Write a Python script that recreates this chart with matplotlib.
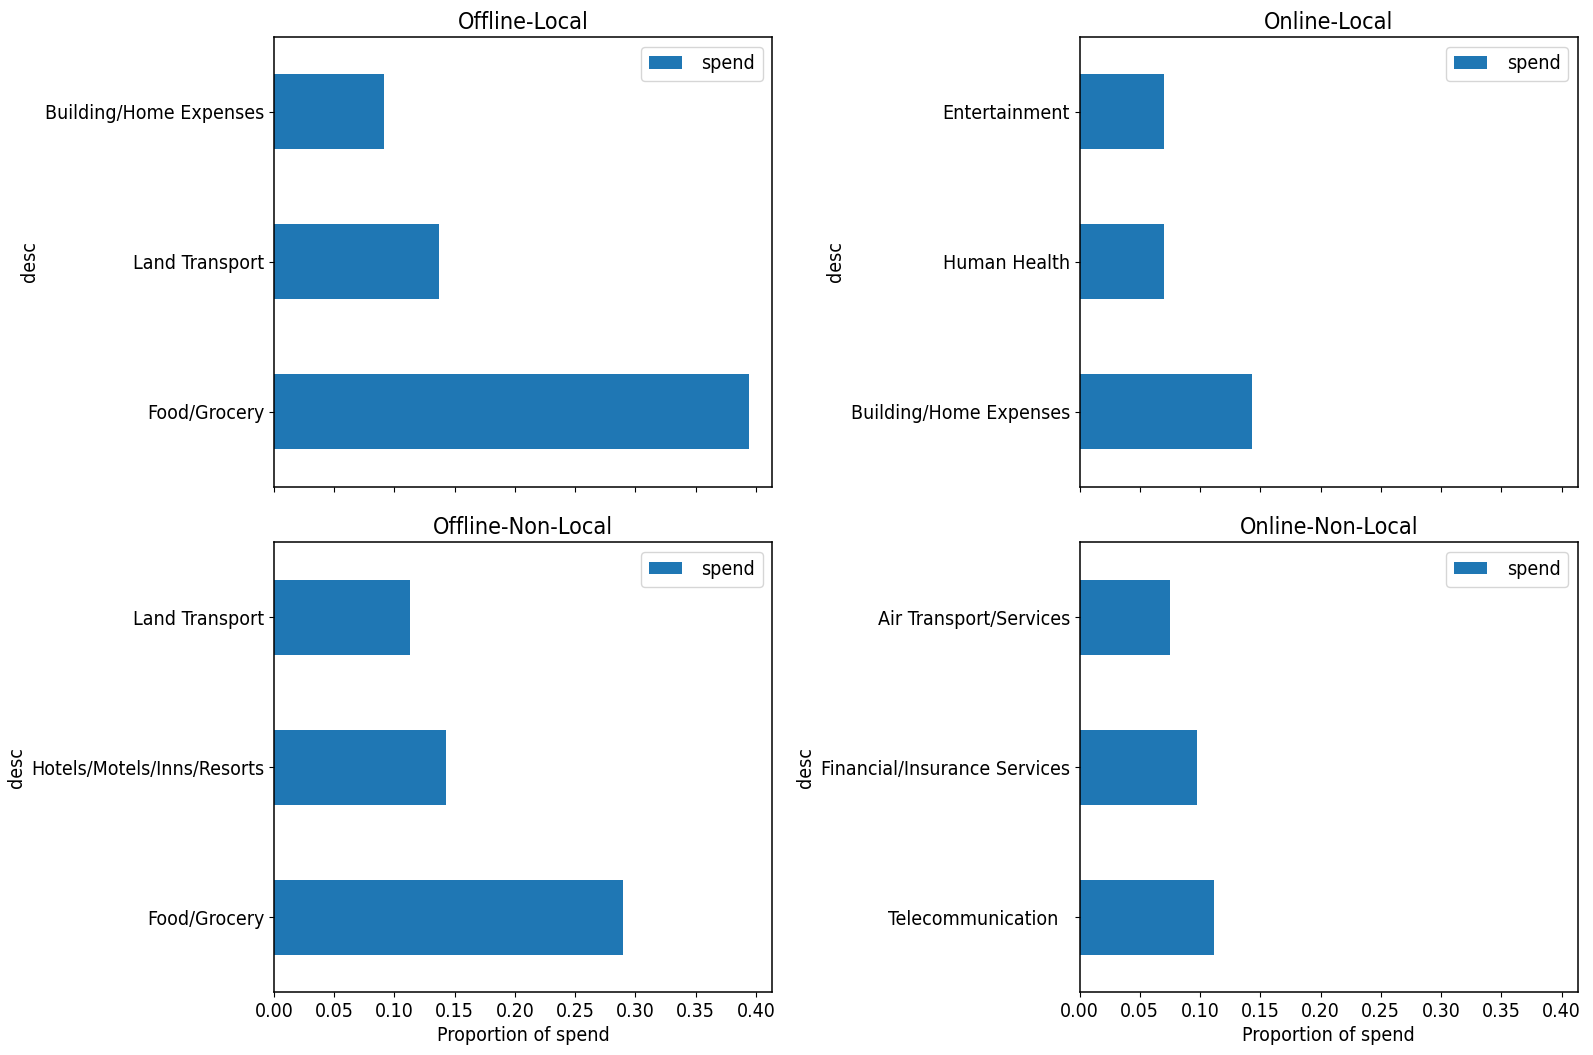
import matplotlib
matplotlib.use("Agg")
import matplotlib.pyplot as plt
from matplotlib.ticker import MultipleLocator, FormatStrFormatter

# spend share by merchant category, one list per channel/locality group
offline_local_desc = ["Food/Grocery", "Land Transport", "Building/Home Expenses"]
offline_local_spend = [0.394, 0.137, 0.091]

online_local_desc = ["Building/Home Expenses", "Human Health", "Entertainment"]
online_local_spend = [0.143, 0.0705, 0.0705]

offline_nonlocal_desc = ["Food/Grocery", "Hotels/Motels/Inns/Resorts", "Land Transport"]
offline_nonlocal_spend = [0.2897, 0.1424, 0.1125]

online_nonlocal_desc = ["Telecommunication  ", "Financial/Insurance Services", "Air Transport/Services"]
online_nonlocal_spend = [0.1118, 0.0978, 0.075]

titles = ["Offline-Local", "Online-Local", "Offline-Non-Local", "Online-Non-Local"]

plt.rcParams["font.family"] = ["DejaVu Sans"]
plt.rcParams["font.stretch"] = "condensed"
plt.rcParams["font.size"] = 14
plt.rcParams["legend.handlelength"] = 1.7
plt.rcParams["legend.handleheight"] = 0.6
plt.rcParams["legend.handletextpad"] = 1.0

fig, axes = plt.subplots(2, 2, sharex=True, figsize=(15.93, 10.55), dpi=100)
fig.subplots_adjust(left=0.172, right=0.9906, top=0.965, bottom=0.0597,
                    wspace=0.616, hspace=0.124)

groups = [(offline_local_desc, offline_local_spend),
          (online_local_desc, online_local_spend),
          (offline_nonlocal_desc, offline_nonlocal_spend),
          (online_nonlocal_desc, online_nonlocal_spend)]

for ax, (desc, spend), title in zip(axes.flat, groups, titles):
    pos = range(len(desc))
    ax.barh(pos, spend, height=0.5, color="#1f77b4", label="spend")
    ax.set_yticks(list(pos))
    ax.set_yticklabels(desc)
    ax.set_ylim(-0.5, len(desc) - 0.5)
    ax.set_ylabel("desc")
    ax.set_title(title)
    ax.legend(loc="upper right")
    for sp in ax.spines.values():
        sp.set_linewidth(1.1)

axes[1, 0].xaxis.set_major_locator(MultipleLocator(0.05))
axes[1, 0].xaxis.set_major_formatter(FormatStrFormatter("%.2f"))

for ax in axes[1]:
    ax.set_xlabel("Proportion of spend")

fig.savefig("out.png", dpi=100)
